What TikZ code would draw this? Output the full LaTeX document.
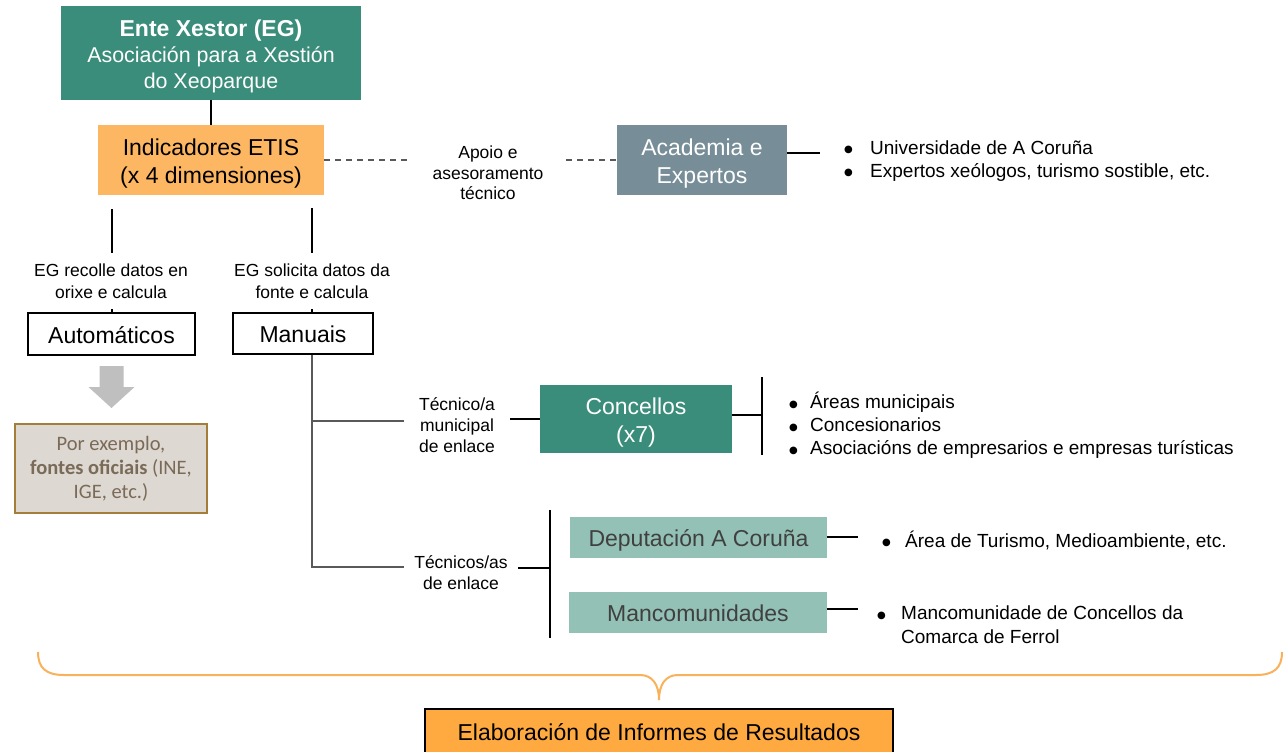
\documentclass[tikz,border=0pt]{standalone}
\usepackage{fontspec}
\setmainfont{Liberation Sans}
\newfontfamily\calibrifont{Carlito}
\newfontfamily\dejavufont{DejaVu Sans}
\usetikzlibrary{calc}
\definecolor{egteal}{HTML}{3A8D7A}
\definecolor{etisorange}{HTML}{FDB763}
\definecolor{acadgray}{HTML}{778E99}
\definecolor{lightteal}{HTML}{93C1B5}
\definecolor{porexfill}{HTML}{DDD8D2}
\definecolor{porexborder}{HTML}{A57D3B}
\definecolor{porextext}{HTML}{7A6A58}
\definecolor{elabfill}{HTML}{FFAA40}
\definecolor{bracecol}{HTML}{F9B15A}
\definecolor{arrowgray}{HTML}{BFBFBF}
\definecolor{deptext}{HTML}{404040}
\definecolor{dashcol}{HTML}{595959}
\newcommand\bdot{\raisebox{1.7pt}{\dejavufont\fontsize{10}{10}\selectfont ●}}
\newcommand\bitem[2]{\makebox[#1][l]{\bdot}#2}
\newcommand\tstrut{\rule[-5pt]{0pt}{28.8pt}}
\begin{document}
\begin{tikzpicture}[x=1pt,y=-1pt,
  box/.style={inner sep=0pt, align=center, font=\fontsize{23}{28}\selectfont},
  lab/.style={inner sep=0pt, align=center, font=\fontsize{17.5}{21}\selectfont},
  bul/.style={inner sep=0pt, align=left, anchor=west, font=\fontsize{19}{23}\selectfont},
  conn/.style={line width=1.5pt, black},
  gconn/.style={line width=1.6pt, black!65},
  dconn/.style={line width=1.4pt, dashcol, dash pattern=on 6pt off 5pt},
  outlined/.style={draw=black, line width=1.4pt}]
\useasboundingbox (0,0) rectangle (1285,752);
\fill[white] (0,0) rectangle (1285,752);

% top
\node[box, fill=egteal, text=white, minimum width=300pt, minimum height=94pt,
  font=\fontsize{21.4}{26}\selectfont] (eg) at (211,53)
  {\tstrut\textbf{\fontsize{23}{26}\selectfont Ente Xestor (EG)}\\Asociación para a Xestión\\do Xeoparque};
\node[box, fill=etisorange, minimum width=226pt, minimum height=70pt] (etis) at (211,160)
  {\tstrut Indicadores ETIS\\(x 4 dimensiones)};
\node[box, fill=acadgray, text=white, minimum width=170pt, minimum height=70pt] (acad) at (702,160)
  {\tstrut Academia e\\Expertos};
\node[lab, minimum width=156pt, font=\fontsize{17.5}{20.5}\selectfont] (apoio) at (488,173)
  {Apoio e\\asesoramento\\técnico};
\node[bul] (acadbul) at (844,161)
  {\bitem{26pt}{Universidade de A Coruña}\\\bitem{26pt}{Expertos xeólogos, turismo sostible, etc.}};

\draw[conn] (eg.south) -- (etis.north);
\draw[dconn] (etis.east) -- (etis.east -| apoio.west);
\draw[dconn] (apoio.east |- acad.west) -- (acad.west);
\coordinate (acend) at (820,153);
\draw[conn] (acad.east |- acend) -- (acend);

% automaticos / manuais
\node[lab, minimum height=56pt, font=\fontsize{17.5}{22}\selectfont] (autolab) at (111,281)
  {EG recolle datos en\\orixe e calcula};
\node[lab, minimum height=56pt, font=\fontsize{17.5}{22}\selectfont] (manulab) at (312,281)
  {EG solicita datos da\\fonte e calcula};
\node[box, outlined, minimum width=167pt, minimum height=42pt] (auto) at (111.5,334) {\tstrut Automáticos};
\node[box, outlined, minimum width=140pt, minimum height=41pt] (manu) at (303,333.5) {\tstrut Manuais};

\coordinate (at) at (112,209);
\coordinate (mt) at (312,208);
\draw[conn] (at) -- (at |- autolab.north);
\draw[conn] (at |- autolab.south) -- (at |- auto.north);
\draw[conn] (mt) -- (mt |- manulab.north);
\draw[conn] (mt |- manulab.south) -- (mt |- manu.north);

\fill[arrowgray] (99.5,366) -- (123.5,366) -- (123.5,387) -- (134.5,387) -- (111.5,408)
  -- (88.5,387) -- (99.5,387) -- cycle;

\node[box, fill=porexfill, draw=porexborder, line width=1.5pt, text=porextext,
  minimum width=192pt, minimum height=89pt, font=\calibrifont\fontsize{20.5}{24}\selectfont] (porex) at (111,468.5)
  {Por exemplo,\\\textbf{fontes oficiais} (INE,\\IGE, etc.)};

% concellos
\node[lab] (tecnico) at (457,425.5) [minimum width=106pt] {Técnico/a\\municipal\\de enlace};
\node[box, fill=egteal, text=white, minimum width=192pt, minimum height=68pt] (conc) at (636,419)
  {\tstrut Concellos\\(x7)};
\node[bul] (concbul) at (789,425.5)
  {\bitem{21pt}{Áreas municipais}\\\bitem{21pt}{Concesionarios}\\\bitem{21pt}{Asociacións de empresarios e empresas turísticas}};

\coordinate (mv) at (312,567);
\coordinate (mh) at (312,421);
\draw[gconn] (mt |- manu.south) -- (mv) -- (mv -| tecnico.west);
\draw[gconn] (mh) -- (mh -| tecnico.west);
\draw[conn] (tecnico.east |- conc.west) -- (conc.west);
\coordinate (cbm) at (762,415);
\coordinate (cbt) at (762,377);
\coordinate (cbb) at (762,455);
\draw[conn] (conc.east |- cbm) -- (cbm);
\draw[conn] (cbt) -- (cbb);

% deputacion / mancomunidades
\node[lab] (tecnicos) at (461,573) [minimum width=114pt] {Técnicos/as\\de enlace};
\node[box, fill=lightteal, text=deptext, minimum width=257pt, minimum height=41pt] (dep) at (698.5,537.5)
  {\tstrut Deputación A Coruña};
\node[box, fill=lightteal, text=deptext, minimum width=258pt, minimum height=41pt] (manc) at (698,612.5)
  {\tstrut Mancomunidades};
\node[bul] (depbul) at (882,540) {\bitem{23pt}{Área de Turismo, Medioambiente, etc.}};
\node[bul, font=\fontsize{19}{24}\selectfont] (mancbul) at (877,625)
  {\bitem{24pt}{Mancomunidade de Concellos da}\\\makebox[24pt]{}Comarca de Ferrol};

\coordinate (vm) at (550,568);
\coordinate (vt) at (550,510);
\coordinate (vb) at (550,638);
\draw[conn] (tecnicos.east |- vm) -- (vm);
\draw[conn] (vt) -- (vb);
\coordinate (de) at (858,537);
\coordinate (me) at (858,609);
\draw[conn] (dep.east |- de) -- (de);
\draw[conn] (manc.east |- me) -- (me);

% brace
\draw[bracecol, line width=2pt] (38,652) .. controls (38,668) and (46,675) .. (64,675)
  -- (640,675) .. controls (652,675) and (659,684) .. (659,700);
\draw[bracecol, line width=2pt] (1282,652) .. controls (1282,668) and (1274,675) .. (1256,675)
  -- (678,675) .. controls (666,675) and (659,684) .. (659,700);

\node[box, fill=elabfill, draw=black, line width=1.4pt, minimum width=468pt, minimum height=45pt] (elab) at (659,731.5)
  {\tstrut Elaboración de Informes de Resultados};
\end{tikzpicture}
\end{document}
